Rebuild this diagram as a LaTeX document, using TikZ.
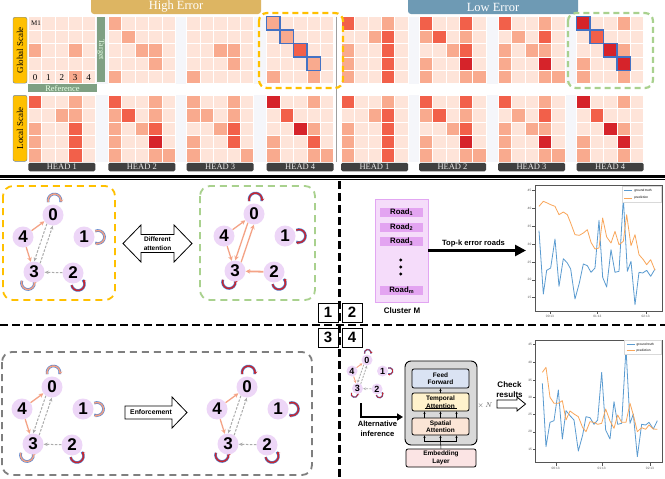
\documentclass[tikz,border=0pt]{standalone}
\usepackage{fontspec}
\setmainfont{Liberation Serif}
\setsansfont{Liberation Sans}
\usetikzlibrary{arrows.meta,calc}

\definecolor{hc0}{HTML}{FEE4D9}
\definecolor{hc1}{HTML}{F9AA8E}
\definecolor{hc2}{HTML}{F2604A}
\definecolor{hc3}{HTML}{D6232A}
\definecolor{bgstrip}{HTML}{F5F6FA}
\definecolor{hiband}{HTML}{DDB562}
\definecolor{loband}{HTML}{6E9AB4}
\definecolor{amber}{HTML}{FFC000}
\definecolor{scaleedge}{HTML}{6A84A8}
\definecolor{sagegreen}{HTML}{7FA083}
\definecolor{headgray}{HTML}{404040}
\definecolor{diagblue}{HTML}{4472C4}
\definecolor{greenhl}{HTML}{A9D18E}
\definecolor{boxgray}{HTML}{7F7F7F}
\definecolor{lav}{HTML}{EDD6F7}
\definecolor{salmonE}{HTML}{F4A386}
\definecolor{grayE}{HTML}{ABABAB}
\definecolor{loopblue}{HTML}{4F7FD0}
\definecolor{loopsal}{HTML}{F2A184}
\definecolor{loopred}{HTML}{C9252C}
\definecolor{clusterfill}{HTML}{F5DCFA}
\definecolor{clusteredge}{HTML}{E2A6F2}
\definecolor{roadfill}{HTML}{E3A4F1}
\definecolor{tgray}{HTML}{D9D9D9}
\definecolor{ffblue}{HTML}{DAE3F3}
\definecolor{tyellow}{HTML}{FFF2CC}
\definecolor{sorange}{HTML}{FBE5D6}
\definecolor{epink}{HTML}{FBE4E4}
\definecolor{gtblue}{HTML}{5A9BD0}
\definecolor{predorange}{HTML}{F9A65A}
\definecolor{axgray}{HTML}{555555}

\newcommand{\hmap}[3]{%
  \foreach \v [count=\k from 0] in {#3} {%
    \pgfmathtruncatemacro{\rowi}{floor(\k/5)}%
    \pgfmathtruncatemacro{\coli}{\k-5*\rowi}%
    \fill[fill=hc\v, draw=white, line width=0.6pt] ({#1+\coli*13.4},{#2+\rowi*13.4}) rectangle ++(13.4,13.4);%
  }%
}
\newcommand{\diagboxes}[2]{%
  \foreach \i in {0,1,2,3} {\draw[diagblue, line width=1.3pt] ({#1+\i*13.4},{#2+\i*13.4}) rectangle ++(13.4,13.4);}%
}
\newcommand{\gloop}[4]{%
  \draw[loopout] #1 ++(#2:6.5) arc[start angle=#2, end angle=#3, radius=6.5];
  \draw[loopin,#4] #1 ++(#2:6.5) arc[start angle=#2, end angle=#3, radius=6.5];
}
\newcommand{\attgraph}[1]{%
  \gloop{(1.5,-14.5)}{165}{375}{loopA}
  \gloop{(45,22)}{245}{475}{loopA}
  \gloop{(-25,68)}{200}{-20}{loopA}
  \gloop{(25,69)}{170}{-40}{loopB}
  \node[gnode] (#1n0) at (0,0) {0};
  \node[gnode] (#1n4) at (-30,22) {4};
  \node[gnode] (#1n1) at (31,22) {1};
  \node[gnode] (#1n3) at (-19,57) {3};
  \node[gnode] (#1n2) at (20,58) {2};
  \draw[esal] (#1n4) -- (#1n0);
  \draw[esal] (#1n4) -- (#1n3);
  \draw[e03] (#1n0.235) -- (#1n3.89);
  \draw[e03] (#1n3.55) -- (#1n0.269);
  \draw[e23] (#1n2) -- (#1n3);
}

\begin{document}
\begin{tikzpicture}[x=1pt, y=-1pt,
  gnode/.style={circle, fill=lav, inner sep=0pt, minimum size=21pt, font=\sffamily\bfseries\fontsize{17}{17}\selectfont},
  esal/.style={draw=salmonE, line width=1.3pt, -{Stealth[length=4.5pt,width=4.5pt]}},
  graydash/.style={draw=grayE, line width=1pt, dash pattern=on 2.5pt off 1.5pt, -{Stealth[length=4pt,width=3.5pt]}},
  salsolid/.style={draw=salmonE, line width=1.3pt, -{Stealth[length=4.5pt,width=4.5pt]}},
  loopout/.style={draw=loopblue, line width=2.6pt},
  loopin/.style={line width=1.4pt, -{Stealth[length=3pt,width=3.6pt]}},
  loopA/.style={draw=loopsal}, loopB/.style={draw=loopred},
  e03/.style={graydash}, e23/.style={graydash},
  headlbl/.style={fill=headgray, text=white!92!black, rounded corners=1.5pt, minimum width=67pt, minimum height=8.5pt, inner sep=0pt, font=\fontsize{8.5}{8.5}\selectfont},
  scalelbl/.style={draw=scaleedge, fill=amber, rounded corners=2pt, rotate=90, minimum width=66pt, minimum height=14pt, inner sep=0pt, font=\fontsize{9}{9}\selectfont},
  bannertext/.style={text=white, font=\fontsize{12.5}{12.5}\selectfont, inner sep=0pt},
  qbox/.style={draw, line width=1pt, fill=white, minimum width=20pt, minimum height=19pt, inner sep=0pt, font=\sffamily\bfseries\fontsize{15}{15}\selectfont},
  sfb/.style={font=\sffamily\bfseries\fontsize{#1}{#1}\selectfont, inner sep=0pt},
  roadbar/.style={fill=roadfill, minimum width=43pt, minimum height=9.5pt, inner sep=0pt, font=\sffamily\bfseries\fontsize{7.8}{7.8}\selectfont},
  tbox/.style={draw, line width=0.8pt, rounded corners=2pt, inner sep=0pt, align=center, font=\sffamily\bfseries\fontsize{6.5}{7.5}\selectfont},
  tarrow/.style={line width=0.5pt, -{Stealth[length=2.5pt,width=2.2pt]}},
  ticklbl/.style={font=\sffamily\fontsize{3.2}{3.2}\selectfont, text=axgray, inner sep=0.5pt},
  hollowarrow/.style={draw, line width=0.8pt, fill=white, line join=miter}
]
\useasboundingbox (0,0) rectangle (665,479);
\fill[white] (0,0) rectangle (665,479);

%% ---------- top: heat maps ----------
\fill[bgstrip] (28,16.7) rectangle (644,83.7);
\fill[bgstrip] (28,95) rectangle (644,162);
\fill[white] (333.7,10) rectangle (341,170);
\draw[gray!75, line width=0.8pt] (336.5,16.7) -- (336.5,162);

% banners
\fill[hiband, rounded corners=3pt] (91,-6) rectangle (261,14);
\node[bannertext] (hit) at (176,7) {High Error};
\fill[loband, rounded corners=3pt] (408,-6) rectangle (578,14);
\node[bannertext] (lot) at (493,7) {Low Error};

% global row (high error)
\hmap{28.3}{16.7}{0,0,0,0,0, 0,0,0,0,0, 1,0,0,1,0, 0,0,0,0,0, 0,0,0,1,0}
\hmap{108.3}{16.7}{1,0,0,0,0, 0,1,0,0,0, 0,0,1,1,0, 0,0,0,1,0, 1,0,0,0,0}
\hmap{186.7}{16.7}{0,0,0,0,0, 0,0,0,0,0, 0,0,1,1,0, 0,0,0,1,0, 1,0,0,0,0}
\hmap{266.7}{16.7}{1,0,0,0,0, 0,1,0,0,0, 0,0,2,0,0, 0,0,0,1,0, 1,0,0,1,0}
% global row (low error)
\hmap{341}{16.7}{2,0,0,1,0, 0,0,1,2,0, 1,0,0,2,0, 1,0,0,2,0, 1,0,0,2,0}
\hmap{419}{16.7}{2,0,0,2,0, 1,2,0,1,0, 0,0,1,2,0, 1,0,0,3,0, 1,0,0,1,1}
\hmap{498}{16.7}{2,0,0,1,0, 0,1,0,2,0, 1,0,1,1,0, 1,0,0,3,0, 1,0,0,1,1}
\hmap{576.7}{16.7}{3,0,0,1,0, 0,2,0,0,0, 0,0,3,1,0, 1,0,0,3,0, 1,0,0,1,0}
% local row (high error)
\hmap{28.3}{95}{2,0,0,1,0, 0,0,1,1,0, 1,0,0,2,0, 1,0,0,2,0, 1,0,0,2,0}
\hmap{108.3}{95}{2,0,0,1,0, 1,2,0,1,0, 1,0,1,2,0, 1,0,0,3,0, 1,0,0,1,1}
\hmap{186.7}{95}{1,0,0,1,0, 1,1,0,1,0, 0,0,1,2,0, 1,0,0,2,0, 1,0,0,0,1}
\hmap{266.7}{95}{3,0,0,1,0, 0,2,0,0,0, 0,0,3,1,0, 1,0,0,2,0, 1,0,0,1,1}
% local row (low error)
\hmap{341}{95}{2,0,0,1,0, 0,0,1,2,0, 1,0,0,2,0, 1,0,0,2,0, 1,0,0,2,0}
\hmap{419}{95}{2,0,0,2,0, 1,2,0,1,0, 0,0,1,2,0, 1,0,0,3,0, 1,0,0,1,1}
\hmap{498}{95}{2,0,0,1,0, 0,1,0,2,0, 1,0,1,1,0, 1,0,0,3,0, 1,0,0,1,1}
\hmap{576.7}{95}{3,0,0,1,0, 0,2,0,0,0, 0,0,3,1,0, 1,0,0,3,0, 1,0,0,1,0}

\diagboxes{266.7}{16.7}
\diagboxes{576.7}{16.7}

% M1 annotations
\node[font=\fontsize{7}{7}\selectfont, inner sep=0pt] (m1) at (36,23.5) {M1};
\foreach \c in {0,...,4} {\node[font=\fontsize{9}{9}\selectfont, inner sep=0pt] (dg\c) at ({35+\c*13.4},78) {\c};}

% side labels
\node[scalelbl] (gs) at (20,50.2) {Global Scale};
\node[scalelbl] (ls) at (20,128.3) {Local Scale};
\node[fill=sagegreen, rotate=-90, minimum width=65pt, minimum height=8.5pt, inner sep=0pt, text=white!90!green, font=\fontsize{8}{8}\selectfont] (tgt) at (101,49.7) {Target};
\node[fill=sagegreen, minimum width=69pt, minimum height=8pt, inner sep=0pt, text=white!90!green, font=\fontsize{8.5}{8.5}\selectfont] (ref) at (62.5,88.2) {Reference};

% head labels
\foreach \xx/\nm/\lab in {61.8/ha/HEAD 1, 141.8/hb/HEAD 2, 220.2/hc/HEAD 3, 300.2/hd/HEAD 4, 374.5/he/HEAD 1, 452.5/hf/HEAD 2, 531.5/hg/HEAD 3, 610.2/hh/HEAD 4}
  {\node[headlbl] (\nm) at (\xx,167) {\lab};}

% highlight boxes
\draw[amber, line width=2.2pt, dash pattern=on 6pt off 4pt, rounded corners=8pt] (259,13) rectangle (343,88);
\draw[greenhl, line width=2.2pt, dash pattern=on 6pt off 4pt, rounded corners=8pt] (568,13) rectangle (653,88);

%% ---------- separators ----------
\draw[line width=2.6pt] (0,176.3) -- (665,176.3);
\draw[line width=0.9pt] (0,179.3) -- (665,179.3);
\draw[line width=2.6pt, dash pattern=on 8pt off 4pt] (339.5,181) -- (339.5,479);
\draw[line width=2.6pt, dash pattern=on 8pt off 4pt] (0,325) -- (665,325);
\node[qbox] (q1) at (328,312.5) {1};
\node[qbox] (q2) at (352,312.5) {2};
\node[qbox] (q3) at (328,337.5) {3};
\node[qbox] (q4) at (352,337.5) {4};

%% ---------- quadrant 1 ----------
\draw[amber, line width=1.8pt, dash pattern=on 7pt off 5pt, rounded corners=10pt] (3,186) rectangle (115,300);
\draw[greenhl, line width=1.8pt, dash pattern=on 7pt off 5pt, rounded corners=10pt] (200,186) rectangle (315,300);
\begin{scope}[shift={(53,215)}]
  \attgraph{y}
\end{scope}
\begin{scope}[shift={(254,214)}, e03/.style={salsolid}, e23/.style={salsolid, line width=1.8pt}, loopA/.style={draw=loopred}]
  \attgraph{g}
\end{scope}
\draw[hollowarrow] (123,243.5) -- (141,225) -- (141,234.5) -- (174,234.5) -- (174,225) -- (192,243.5) -- (174,262) -- (174,252.5) -- (141,252.5) -- (141,262) -- cycle;
\node[font=\sffamily\bfseries\fontsize{6.5}{8.5}\selectfont, align=center, inner sep=0pt] (difftxt) at (157.5,243.5) {Different\\attention};

%% ---------- quadrant 3 ----------
\draw[boxgray, line width=1.8pt, dash pattern=on 7pt off 5pt, rounded corners=10pt] (2,352) rectangle (312,475);
\begin{scope}[shift={(52,387)}]
  \attgraph{a}
\end{scope}
\begin{scope}[shift={(247,387)}, loopA/.style={draw=loopred}]
  \attgraph{b}
\end{scope}
\draw[hollowarrow] (125,406) -- (172,406) -- (172,397) -- (187,412.5) -- (172,428) -- (172,419) -- (125,419) -- cycle;
\node[sfb=6.8] (enf) at (151,412.5) {Enforcement};

%% ---------- quadrant 2 ----------
\node[draw=clusteredge, fill=clusterfill, line width=0.8pt, minimum width=53pt, minimum height=103pt, inner sep=0pt] (cluster) at (401.5,250.5) {};
\node[roadbar] (r1) at (401.7,212.3) {Road\textsubscript{1}};
\node[roadbar] (r2) at (401.7,227.5) {Road\textsubscript{2}};
\node[roadbar] (r3) at (401.7,241.7) {Road\textsubscript{3}};
\node[roadbar] (rm) at (401.7,290.5) {Road\textsubscript{m}};
\foreach \yy [count=\j] in {260,267,274} {\fill (400.8,\yy) circle (1.6);}
\node[sfb=8] (clm) at (402,311) {Cluster M};
\coordinate (c1left) at (526,250.5);
\draw[line width=2.6pt, -{Triangle[length=11pt,width=11pt]}] (cluster.east) -- (c1left);
\node[sfb=7.6] (topk) at (473.5,244) {Top-k error roads};

% chart 1
\begin{scope}[shift={(530,183)}, scale=1/3]
  \draw[axgray, line width=0.4pt] (15,8) rectangle (396,385);
  \foreach \yy/\lab in {22/45,75/40,130/35,183/30,237/25,290/20,343/15}
    {\draw[axgray, line width=0.3pt] (15,\yy) -- (6,\yy); \node[ticklbl, anchor=east] at (6,\yy) {\lab};}
  \foreach \xx/\lab in {60/00:13,202/01:13,347/02:13}
    {\draw[axgray, line width=0.3pt] (\xx,385) -- (\xx,394); \node[ticklbl] at (\xx,400) {\lab};}
  \draw[gtblue, line width=0.8pt, line join=round] plot coordinates {(27,143) (40,333) (50,262) (62,255) (75,168) (87,310) (100,227) (112,240) (122,258) (135,348) (148,300) (160,243) (172,248) (183,268) (195,255) (207,112) (218,283) (230,312) (243,200) (255,268) (267,265) (280,45) (292,265) (303,235) (315,365) (327,268) (338,270) (350,262) (362,280) (375,258)};
  \draw[predorange, line width=0.8pt, line join=round] plot coordinates {(27,70) (40,55) (52,60) (62,65) (75,70) (87,95) (100,87) (112,95) (122,120) (135,155) (148,157) (160,150) (172,140) (183,178) (195,198) (207,195) (218,105) (230,162) (243,180) (255,145) (267,185) (280,175) (290,95) (303,188) (315,155) (327,215) (340,230) (350,245) (362,230) (375,262)};
  \draw[gray!30, fill=white, line width=0.3pt] (275,10) rectangle (394,57);
  \draw[gtblue, line width=0.7pt] (282,22) -- (307,22);
  \draw[predorange, line width=0.7pt] (282,45) -- (307,45);
  \node[ticklbl, anchor=west, text=black] at (311,22) {ground truth};
  \node[ticklbl, anchor=west, text=black] at (311,45) {prediction};
\end{scope}

%% ---------- quadrant 4 ----------
\begin{scope}[shift={(367,360)}, scale=0.5,
  gnode/.style={circle, fill=lav, inner sep=0pt, minimum size=11pt, font=\sffamily\bfseries\fontsize{9}{9}\selectfont},
  esal/.style={draw=salmonE, line width=0.9pt, -{Stealth[length=3pt,width=3pt]}},
  graydash/.style={draw=grayE, line width=0.8pt, dash pattern=on 2pt off 1.2pt, -{Stealth[length=2.8pt,width=2.6pt]}},
  loopout/.style={draw=loopblue, line width=1.4pt},
  loopin/.style={line width=0.7pt, -{Stealth[length=2pt,width=2.4pt]}},
  loopA/.style={draw=loopred}]
  \attgraph{s}
\end{scope}
\coordinate (altstart) at (361,403);
\coordinate (altend) at (403,417);
\draw[line width=2pt, -{Triangle[length=6pt,width=7pt]}] (altstart) |- (altend);
\node[align=center, inner sep=0pt, font=\sffamily\bfseries\fontsize{7.6}{10}\selectfont] (alt) at (377.5,429) {Alternative\\inference};

\node[draw, line width=0.9pt, fill=tgray, rounded corners=6pt, minimum width=72pt, minimum height=84pt, inner sep=0pt] (tblock) at (441,403) {};
\node[tbox, fill=ffblue, minimum width=57pt, minimum height=19pt] (ff) at (440.5,378.5) {Feed\\Forward};
\node[tbox, fill=tyellow, minimum width=57pt, minimum height=18pt] (temp) at (440.5,402) {Temporal\\Attention};
\node[tbox, fill=sorange, minimum width=57pt, minimum height=17pt] (spat) at (440.5,426.5) {Spatial\\Attention};
\node[tbox, fill=epink, minimum width=70pt, minimum height=18pt] (emb) at (441,458) {Embedding\\Layer};
\draw[tarrow] (temp.north) -- (ff.south);
\foreach \dx in {-16,0,16} {\draw[tarrow] ([xshift=\dx pt]spat.north) -- ([xshift=\dx pt]temp.south);}
\draw[line width=0.5pt] ([xshift=-16pt,yshift=3.5pt]temp.south) -- ([xshift=16pt,yshift=3.5pt]temp.south);
\coordinate (ebar) at (440.5,441.5);
\draw[line width=0.5pt] (emb.north) -- (ebar);
\draw[line width=0.5pt] ([xshift=-16pt]ebar) -- ([xshift=16pt]ebar);
\foreach \dx in {-16,0,16} {\draw[tarrow] ([xshift=\dx pt]ebar) -- ([xshift=\dx pt]spat.south);}
\node[font=\fontsize{7}{7}\selectfont, text=axgray, inner sep=0pt] (xn) at (485,406) {$\times\,N$};

\node[align=center, font=\sffamily\bfseries\fontsize{8}{10}\selectfont, inner sep=0pt] (chk) at (509.5,390) {Check\\results};
\draw[hollowarrow] (497,400) -- (517,400) -- (517,397) -- (525.5,404) -- (517,411) -- (517,408) -- (497,408) -- cycle;

% chart 2
\begin{scope}[shift={(530,335)}, scale=1/3]
  \draw[axgray, line width=0.4pt] (17,15) rectangle (396,383);
  \foreach \yy/\lab in {28/45,82/40,135/35,187/30,238/25,290/20,342/15}
    {\draw[axgray, line width=0.3pt] (17,\yy) -- (8,\yy); \node[ticklbl, anchor=east] at (8,\yy) {\lab};}
  \foreach \xx/\lab in {77/00:13,215/01:13,360/02:13}
    {\draw[axgray, line width=0.3pt] (\xx,383) -- (\xx,392); \node[ticklbl] at (\xx,400) {\lab};}
  \draw[gtblue, line width=0.8pt, line join=round] plot coordinates {(37,145) (48,335) (60,262) (72,257) (85,165) (97,312) (108,227) (120,242) (132,255) (145,348) (158,300) (168,245) (180,248) (192,268) (203,255) (215,112) (227,285) (240,312) (252,200) (263,268) (275,265) (288,40) (300,265) (310,237) (322,365) (335,268) (347,270) (357,262) (370,282) (382,257)};
  \draw[predorange, line width=0.8pt, line join=round] plot coordinates {(37,112) (48,97) (60,187) (72,205) (85,205) (97,197) (108,255) (120,228) (132,237) (145,245) (158,278) (168,290) (180,260) (192,262) (203,268) (215,265) (227,222) (240,258) (252,280) (263,240) (275,262) (288,262) (300,205) (310,240) (322,290) (335,278) (347,283) (357,270) (370,282) (382,283)};
  \draw[gray!30, fill=white, line width=0.3pt] (283,15) rectangle (394,57);
  \draw[gtblue, line width=0.7pt] (290,28) -- (315,28);
  \draw[predorange, line width=1.2pt] (290,47) -- (315,47);
  \node[ticklbl, anchor=west, text=black] at (318,28) {ground truth};
  \node[ticklbl, anchor=west, text=black] at (318,47) {prediction};
\end{scope}
\end{tikzpicture}
\end{document}
